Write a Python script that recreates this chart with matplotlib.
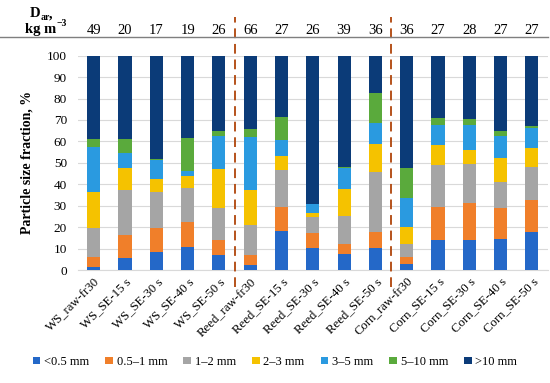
import numpy as np
import matplotlib
matplotlib.use('Agg')
import matplotlib.pyplot as plt
from matplotlib.lines import Line2D

plt.rcParams['font.family'] = 'Liberation Serif'

samples = ['WS_raw-fr30', 'WS_SE-15 s', 'WS_SE-30 s', 'WS_SE-40 s', 'WS_SE-50 s',
           'Reed_raw-fr30', 'Reed_SE-15 s', 'Reed_SE-30 s', 'Reed_SE-40 s', 'Reed_SE-50 s',
           'Corn_raw-fr30', 'Corn_SE-15 s', 'Corn_SE-30 s', 'Corn_SE-40 s', 'Corn_SE-50 s']
density = ['49', '20', '17', '19', '26', '66', '27', '26', '39', '36', '36', '27', '28', '27', '27']
fractions = ['<0.5 mm', '0.5–1 mm', '1–2 mm', '2–3 mm', '3–5 mm', '5–10 mm', '>10 mm']

lt_05 = [1.5, 5.8, 8.6, 10.9, 7.0, 2.3, 18.2, 10.4, 7.5, 10.4, 2.8, 14.0, 14.0, 14.5, 17.9]
f05_1 = [4.7, 10.5, 10.8, 11.6, 7.0, 4.7, 11.3, 7.0, 4.5, 7.5, 3.4, 15.2, 17.1, 14.3, 14.8]
f1_2 = [13.2, 21.0, 17.1, 15.6, 14.8, 14.0, 17.2, 7.5, 13.3, 28.0, 5.8, 19.8, 18.4, 12.1, 15.5]
f2_3 = [17.1, 10.1, 5.8, 5.8, 18.2, 16.3, 6.5, 1.5, 12.3, 12.9, 8.2, 9.3, 6.5, 11.2, 8.6]
f3_5 = [20.7, 7.3, 9.0, 2.4, 15.5, 24.6, 7.5, 4.2, 9.8, 9.6, 13.5, 9.4, 11.7, 10.4, 9.6]
f5_10 = [3.8, 6.3, 0.5, 15.1, 2.5, 4.0, 10.5, 0.0, 0.8, 14.0, 13.7, 3.1, 2.8, 2.5, 0.6]
gt_10 = [39.0, 39.0, 48.2, 38.6, 35.0, 34.1, 28.8, 69.4, 51.8, 17.6, 52.6, 29.2, 29.5, 35.0, 33.0]

colors = ['#2468C8', '#F07F2A', '#A5A5A5', '#F5C200', '#2A9AE0', '#5AAA3C', '#0B3B78']

fig = plt.figure(figsize=(5.5, 3.83), dpi=100)
ax = fig.add_axes([0.142, 0.295, 0.8535, 0.5596])

x = np.arange(len(samples))
bottom = np.zeros(len(samples))
for vals, col, lab in zip([lt_05, f05_1, f1_2, f2_3, f3_5, f5_10, gt_10], colors, fractions):
    ax.bar(x, vals, 0.42, bottom=bottom, color=col, label=lab, zorder=3)
    bottom += np.array(vals)

ax.set_xlim(-0.5, len(samples) - 0.5)
ax.set_ylim(0, 100)
ax.set_yticks(range(0, 101, 10))
ax.grid(axis='y', color='#D9D9D9', lw=0.8, zorder=0)
for s in ['top', 'right', 'left']:
    ax.spines[s].set_visible(False)
ax.spines['bottom'].set_color('#D9D9D9')
ax.tick_params(axis='both', length=0, labelsize=9.5, pad=8)
ax.set_xticks(x)
ax.set_xticklabels(samples, rotation=45, ha='right', rotation_mode='anchor', fontsize=9.2)
ax.tick_params(axis='x', pad=4)
ax.set_ylabel('Particle size fraction, %', fontweight='bold', fontsize=10, labelpad=10)

# group separators
for xs in [4.5, 9.5]:
    ax.axvline(xs, ymin=-0.08, ymax=1.18, color='#B5521B', ls=(0, (5, 3)), lw=1.4,
               clip_on=False, zorder=4)

# bulk density row above the chart
for i, d in enumerate(density):
    ax.text(i, 1.118, d, transform=ax.get_xaxis_transform(), ha='center', va='center',
            fontsize=10.5)
fig.add_artist(Line2D([0.0, 0.997], [0.903, 0.903], color='#7F7F7F', lw=1.0))
fig.text(0.073, 0.955, 'D', ha='right', va='baseline', fontweight='bold', fontsize=10.5)
fig.text(0.073, 0.948, 'ar', ha='left', va='baseline', fontweight='bold', fontsize=7)
fig.text(0.088, 0.955, ',', ha='left', va='baseline', fontweight='bold', fontsize=10.5)
fig.text(0.102, 0.915, 'kg m', ha='right', va='baseline', fontweight='bold', fontsize=10.5)
fig.text(0.103, 0.933, '−3', ha='left', va='baseline', fontweight='bold', fontsize=7)

fig.legend(loc='lower center', bbox_to_anchor=(0.5, 0.01), ncol=7, frameon=False,
           fontsize=9, handlelength=0.6, handleheight=0.6, handletextpad=0.3,
           columnspacing=1.3)

fig.savefig('out.png', dpi=100)
